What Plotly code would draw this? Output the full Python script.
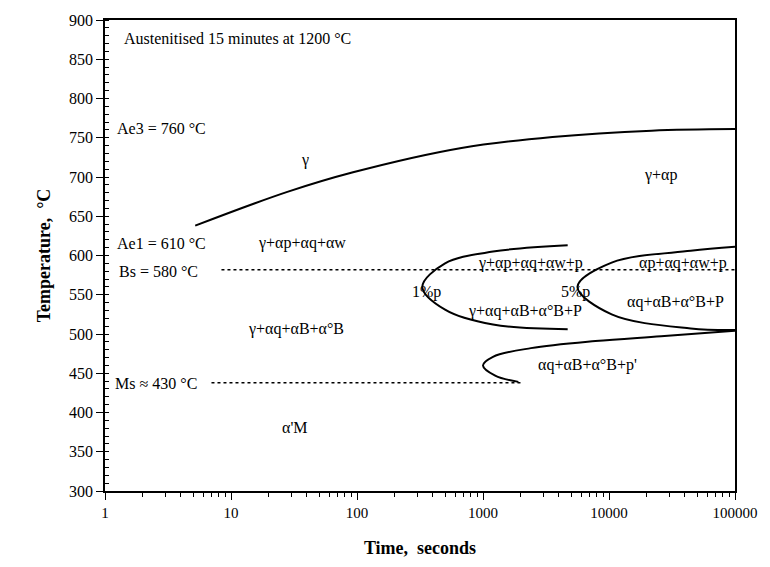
import math
import plotly.graph_objects as go

# Ae3 / austenite boundary (start of ferrite)
gamma_t = [5.2, 28, 93, 675, 3560, 21800, 100000]
gamma_T = [638, 681, 706, 737, 751, 759, 761]

# 1 % transformation C-curve
p1_t = [4700, 1200, 500, 330, 500, 1200, 4700]
p1_T = [613, 605, 590, 560, 531, 512, 506]

# 5 % transformation C-curve
p5_t = [100000, 44500, 10500, 5620, 10500, 44500, 100000]
p5_T = [611, 606, 591, 560, 525, 507, 505]

# lower (bainite/martensite region) curve
low_t = [100000, 25900, 7800, 2400, 1200, 1000, 1250, 1910]
low_T = [504, 497, 491, 482, 471, 460, 447, 439]

# dotted reference lines
bs_t = [8.4, 100000]
bs_T = [582, 582]
ms_t = [7, 2000]
ms_T = [438, 438]

x_tickvals = [1, 10, 100, 1000, 10000, 100000]
x_ticktext = ["1", "10", "100", "1000", "10000", "100000"]

# labels: text, time (s), temperature (°C), anchor
labels = [
    ("Austenitised 15 minutes at 1200 °C", 1.36, 876, "left"),
    ("Ae3 = 760 °C", 1.2, 762, "left"),
    ("γ", 38.5, 722, "center"),
    ("γ+αp", 25800, 702, "center"),
    ("Ae1 = 610 °C", 1.2, 615, "left"),
    ("γ+αp+αq+αw", 36.5, 616, "center"),
    ("Bs = 580 °C", 1.24, 580, "left"),
    ("γ+αp+αq+αw+p", 2370, 591, "center"),
    ("αp+αq+αw+p", 38500, 591, "center"),
    ("1%p", 355, 554, "center"),
    ("5%p", 5400, 554, "center"),
    ("αq+αB+α°B+P", 33500, 541, "center"),
    ("γ+αq+αB+α°B+P", 2140, 529, "center"),
    ("γ+αq+αB+α°B", 33, 506, "center"),
    ("αq+αB+α°B+p'", 6800, 460, "center"),
    ("Ms ≈ 430 °C", 1.16, 437, "left"),
    ("α'M", 32.4, 381, "center"),
]

FONT = "Liberation Serif"

fig = go.Figure()
for tx, ty in [(gamma_t, gamma_T), (p1_t, p1_T), (p5_t, p5_T), (low_t, low_T)]:
    fig.add_trace(go.Scatter(x=tx, y=ty, mode="lines",
                             line=dict(color="black", width=2, shape="spline", smoothing=1.0),
                             showlegend=False, hoverinfo="skip"))
for tx, ty in [(bs_t, bs_T), (ms_t, ms_T)]:
    fig.add_trace(go.Scatter(x=tx, y=ty, mode="lines",
                             line=dict(color="black", width=1.5, dash="dot"),
                             showlegend=False, hoverinfo="skip"))

for text, t, T, anchor in labels:
    fig.add_annotation(x=math.log10(t), y=T, text=text, showarrow=False,
                       xanchor=anchor, yanchor="middle",
                       font=dict(family=FONT, size=16, color="black"))

fig.update_xaxes(type="log", range=[0, 5], tickvals=x_tickvals, ticktext=x_ticktext,
                 showgrid=False, zeroline=False,
                 showline=True, linecolor="black", linewidth=1.5, mirror=True,
                 ticks="outside", ticklen=7, tickwidth=1.2, tickcolor="black",
                 minor=dict(ticks="outside", ticklen=4, tickcolor="black", tickwidth=1, dtick="D1", showgrid=False),
                 tickfont=dict(family=FONT, size=15, color="black"),
                 title=dict(text="<b>Time,  seconds</b>", font=dict(family=FONT, size=18, color="black"),
                            standoff=22))
fig.update_yaxes(range=[300, 900], dtick=50, tick0=300,
                 showgrid=False, zeroline=False,
                 showline=True, linecolor="black", linewidth=1.5, mirror=True,
                 ticks="outside", ticklen=7, tickwidth=1.2, tickcolor="black",
                 minor=dict(ticks="inside", ticklen=4, tickcolor="black", tickwidth=1, dtick=10, showgrid=False),
                 tickfont=dict(family=FONT, size=16, color="black"),
                 title=dict(text="<b>Temperature,  °C</b>", font=dict(family=FONT, size=18, color="black"),
                            standoff=14))

fig.update_layout(width=770, height=567,
                  margin=dict(l=105, r=25, t=15, b=72),
                  paper_bgcolor="white", plot_bgcolor="white")

fig.write_html("out.html")
